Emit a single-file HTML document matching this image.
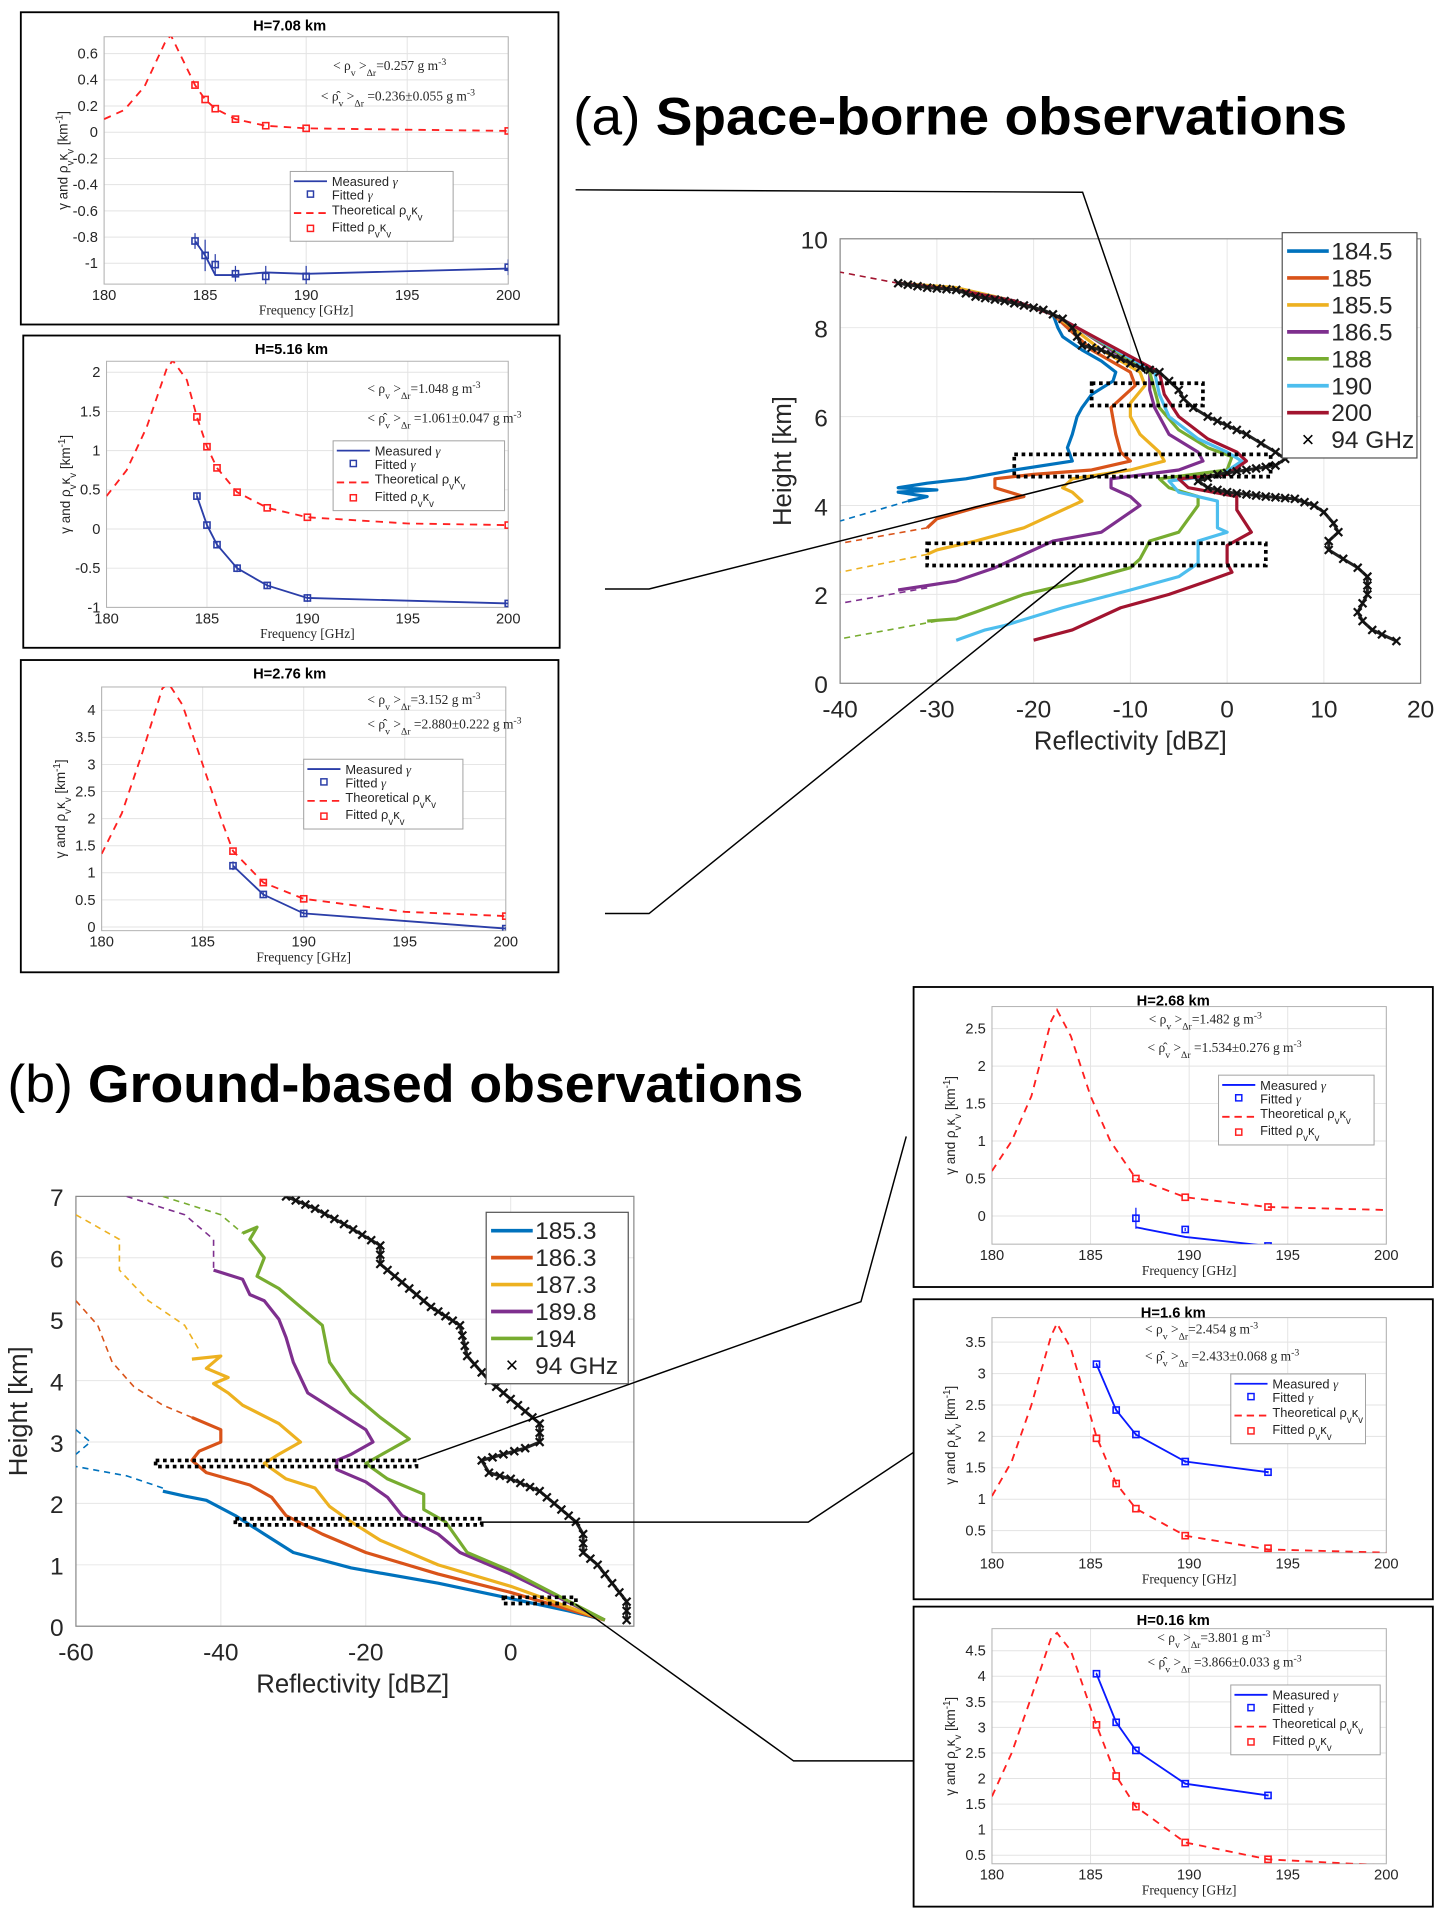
<!DOCTYPE html>
<html><head><meta charset="utf-8">
<style>
html,body{margin:0;padding:0;background:#fff;}
svg{display:block;font-family:"Liberation Sans","DejaVu Sans",sans-serif;}
.serif{font-family:"Liberation Serif","DejaVu Serif",serif;}
</style></head>
<body>
<svg id="fig" width="1450" height="1925" viewBox="0 0 1184 1572" preserveAspectRatio="none" xmlns="http://www.w3.org/2000/svg">
<text x="468" y="110" font-size="43" fill="#000" textLength="632" lengthAdjust="spacingAndGlyphs"><tspan>(a) </tspan><tspan font-weight="bold">Space-borne observations</tspan></text>
<text x="6" y="900" font-size="43" fill="#000" textLength="650" lengthAdjust="spacingAndGlyphs"><tspan>(b) </tspan><tspan font-weight="bold">Ground-based observations</tspan></text>
<g id="connectors" stroke="#000" stroke-width="1.2" fill="none">
<polyline points="470,155 884,157 935,305"/>
<polyline points="494,481 530,481 920,383"/>
<polyline points="494,746 530,746 882,462"/>
<polyline points="341,1192 703,1063 740,928"/>
<polyline points="392,1243 660,1243 746,1186"/>
<polyline points="470,1310 648,1438 746,1438"/>
</g>
</svg>
<script>
// ===== Small panel data =====
const a1TheoryF=[180,181,182,183,183.3,184,184.5,185,185.5,186.5,188,190,195,200];
const a1TheoryV=[0.1,0.17,0.35,0.68,0.74,0.52,0.36,0.25,0.18,0.1,0.05,0.03,0.02,0.01];
const a1FitF=[184.5,185,185.5,186.5,188,190,200];
const a1FitRho=[0.36,0.25,0.18,0.1,0.05,0.03,0.01];
const a1MeasG=[-0.83,-0.94,-1.09,-1.09,-1.07,-1.08,-1.04];
const a1FitG=[-0.83,-0.94,-1.01,-1.08,-1.1,-1.1,-1.03];
const a1Err=[0.06,0.12,0.08,0.06,0.08,0.08,0.06];

const a2TheoryF=[180,181,182,183,183.3,184,184.5,185,185.5,186.5,188,190,195,200];
const a2TheoryV=[0.42,0.75,1.3,2.05,2.15,1.9,1.43,1.05,0.78,0.47,0.27,0.15,0.07,0.05];
const a2FitF=[184.5,185,185.5,186.5,188,190,200];
const a2FitRho=[1.43,1.05,0.78,0.47,0.27,0.15,0.05];
const a2MeasG=[0.42,0.05,-0.2,-0.5,-0.72,-0.88,-0.95];
const a2FitG=[0.42,0.05,-0.2,-0.5,-0.72,-0.88,-0.95];
const a2Err=[0.04,0.04,0.04,0.05,0.04,0.05,0.03];

const a3TheoryF=[180,181,182,183,183.3,184,185,186,186.5,188,190,195,200];
const a3TheoryV=[1.35,2.1,3.2,4.4,4.5,4.1,3.0,1.9,1.4,0.82,0.52,0.28,0.2];
const a3FitF=[186.5,188,190,200];
const a3FitRho=[1.4,0.82,0.52,0.2];
const a3MeasG=[1.13,0.6,0.25,-0.03];
const a3FitG=[1.13,0.6,0.25,-0.03];
const a3Err=[0.08,0.04,0.04,0.03];

const b1TheoryF=[180,181,182,183,183.3,184,185,186,187.3,189.8,194,200];
const b1TheoryV=[0.6,1.0,1.6,2.6,2.75,2.4,1.6,1.0,0.5,0.25,0.12,0.08];
const b1FitF=[187.3,189.8,194];
const b1FitRho=[0.5,0.25,0.12];
const b1MeasG=[-0.15,-0.28,-0.4];
const b1FitG=[-0.03,-0.18,-0.4];
const b1Err=[0.14,0.02,0.02];

const b2TheoryF=[180,181,182,183,183.3,184,185.3,186.3,187.3,189.8,194,200];
const b2TheoryV=[1.05,1.6,2.5,3.6,3.8,3.4,2.0,1.25,0.85,0.42,0.2,0.15];
const b2FitF=[185.3,186.3,187.3,189.8,194];
const b2FitRho=[1.97,1.25,0.85,0.42,0.22];
const b2MeasG=[3.15,2.42,2.03,1.6,1.43];
const b2FitG=[3.15,2.42,2.03,1.6,1.43];
const b2Err=[0.02,0.02,0.02,0.02,0.02];

const b3TheoryF=[180,181,182,183,183.3,184,185.3,186.3,187.3,189.8,194,200];
const b3TheoryV=[1.65,2.5,3.6,4.75,4.85,4.5,3.05,2.05,1.45,0.75,0.42,0.3];
const b3FitF=[185.3,186.3,187.3,189.8,194];
const b3FitRho=[3.05,2.05,1.45,0.75,0.42];
const b3MeasG=[4.05,3.1,2.55,1.9,1.67];
const b3FitG=[4.05,3.1,2.55,1.9,1.67];
const b3Err=[0.02,0.02,0.02,0.02,0.02];

const xTickLabels=["180","185","190","195","200"];
const a1YTicks=[0.6,0.4,0.2,0,-0.2,-0.4,-0.6,-0.8,-1];
const a2YTicks=[2,1.5,1,0.5,0,-0.5,-1];
const a3YTicks=[4,3.5,3,2.5,2,1.5,1,0.5,0];
const b1YTicks=[2.5,2,1.5,1,0.5,0];
const b2YTicks=[3.5,3,2.5,2,1.5,1,0.5];
const b3YTicks=[4.5,4,3.5,3,2.5,2,1.5,1,0.5];

// ===== Space-borne profile data (dBZ, km) =====
const aSeriesNames=["184.5","185","185.5","186.5","188","190","200"];
const aSeriesColors=["#0072BD","#D95319","#EDB120","#7E2F8E","#77AC30","#4DBEEE","#A2142F"];
const aS1x=[-34,-28,-22,-18,-17.5,-17,-15,-13,-11.5,-11.8,-14,-15,-15.5,-16,-16.5,-16,-22,-27,-31,-34,-30,-34,-31,-33];
const aS1h=[9.0,8.85,8.6,8.3,8.0,7.8,7.5,7.25,7.0,6.8,6.5,6.2,6.0,5.6,5.3,5.0,4.8,4.6,4.5,4.4,4.35,4.3,4.2,4.1];
const aS2x=[-34,-28,-22,-18,-16.5,-14,-10,-9.5,-11,-12,-11.5,-11,-10,-14,-20,-24,-24,-21,-26,-30,-31];
const aS2h=[9.0,8.85,8.6,8.3,8.0,7.5,7.0,6.7,6.4,6.2,5.6,5.2,5.0,4.8,4.7,4.6,4.4,4.2,3.95,3.7,3.5];
const aS3x=[-34,-28,-22,-18,-16,-13,-9,-8.5,-10,-10,-9,-7,-6.5,-10,-16,-17,-16,-15,-18,-21,-26,-30,-31];
const aS3h=[9.0,8.9,8.6,8.3,8.0,7.5,7.0,6.7,6.3,6.0,5.6,5.2,5.0,4.8,4.6,4.4,4.3,4.1,3.8,3.5,3.2,3.0,2.9];
const aS4x=[-34,-28,-22,-18,-15.5,-12,-8,-8,-7.5,-6,-3,-2.5,-5,-12,-12,-10,-9,-11,-13,-18,-20,-24,-28,-34];
const aS4h=[9.0,8.85,8.6,8.3,8.0,7.5,7.0,6.6,6.2,5.6,5.2,5.0,4.8,4.6,4.4,4.2,4.0,3.7,3.4,3.2,3.0,2.6,2.3,2.1];
const aS5x=[-34,-28,-22,-18,-15.5,-8,-7.5,-7,-5,-2,0.5,0,-7,-6,-3,-3,-4,-5,-8,-9,-10,-15,-21,-26,-28,-31];
const aS5h=[9.0,8.85,8.6,8.3,8.0,7.0,6.6,6.2,5.7,5.3,5.1,4.8,4.6,4.4,4.2,4.0,3.7,3.4,3.2,2.8,2.6,2.3,2.0,1.6,1.45,1.4];
const aS6x=[-34,-28,-22,-18,-15.5,-7.5,-7,-6,-3,0,1.5,-0.5,-6,-5,-1,-1,-1,0,-3,-3,-5,-10,-17,-23,-25,-28];
const aS6h=[9.0,8.85,8.6,8.3,8.0,7.0,6.5,6.0,5.5,5.2,5.0,4.7,4.55,4.3,4.1,3.8,3.5,3.4,3.2,2.7,2.4,2.1,1.7,1.3,1.2,0.97];
const aS7x=[-34,-28,-22,-18,-15.5,-7,-6.5,-5,-2,1,2,0,-5,-4,1,1,2.5,0,0,0.5,-2,-6,-11,-16,-20];
const aS7h=[9.0,8.85,8.6,8.3,8.0,7.0,6.5,6.0,5.5,5.2,5.0,4.7,4.6,4.4,4.2,3.9,3.4,3.1,2.7,2.5,2.3,2.0,1.7,1.2,0.97];
const aD1x=[-33,-40], aD1h=[4.1,3.65];
const aD2x=[-31,-40], aD2h=[3.5,3.15];
const aD3x=[-31,-40], aD3h=[2.9,2.5];
const aD4x=[-31,-40], aD4h=[2.15,1.8];
const aD5x=[-30,-40], aD5h=[1.4,1.0];
const aD7x=[-34,-40], aD7h=[9.0,9.25];
const a94x=[-34,-31,-28,-26,-23,-21,-19,-17,-16,-15.5,-15,-13,-11,-9,-7,-6,-5,-4.5,-3.5,-2,0,2,3.5,5,6,5,2,-1,-3,-2,0,2,4,7,9,10,11,11.5,10.5,10.5,12,13.5,14.5,14.5,14,13.5,14,15,16,17.5];
const a94h=[9.0,8.9,8.85,8.7,8.6,8.5,8.4,8.2,8.0,7.8,7.6,7.5,7.3,7.1,7.0,6.8,6.6,6.4,6.2,6.0,5.8,5.6,5.4,5.2,5.05,4.9,4.8,4.7,4.55,4.4,4.3,4.25,4.2,4.15,4.0,3.85,3.6,3.4,3.2,3.0,2.8,2.6,2.4,2.0,1.8,1.6,1.4,1.2,1.1,0.95];
const aBoxX0=[-14,-22,-31], aBoxX1=[-2.5,4.5,4], aBoxH0=[6.25,4.65,2.65], aBoxH1=[6.75,5.15,3.15];
const aXTicks=[-40,-30,-20,-10,0,10,20];
const aYTicks=[0,2,4,6,8,10];

// ===== Ground-based profile data =====
const bSeriesNames=["185.3","186.3","187.3","189.8","194"];
const bSeriesColors=["#0072BD","#D95319","#EDB120","#7E2F8E","#77AC30"];
const bS1x=[-48,-45,-42,-38,-34,-30,-22,-10,0,8,13];
const bS1h=[2.2,2.12,2.05,1.8,1.5,1.2,0.95,0.7,0.45,0.25,0.1];
const bS2x=[-44,-40,-40,-43,-44,-42,-36,-33,-31,-26,-20,-10,0,13];
const bS2h=[3.4,3.2,3.0,2.85,2.7,2.5,2.3,2.1,1.8,1.5,1.2,0.85,0.55,0.1];
const bS3x=[-44,-40,-42,-39,-41,-39,-37,-32,-29,-32,-34,-31,-27,-25,-22,-18,-10,0,13];
const bS3h=[4.35,4.4,4.2,4.05,3.95,3.8,3.6,3.3,3.0,2.8,2.65,2.4,2.25,1.95,1.7,1.4,1.0,0.65,0.1];
const bS4x=[-41,-37,-36,-34,-32,-31,-30,-28,-24,-20,-19,-22,-24,-24,-20,-17,-15,-10,-7,0,13];
const bS4h=[5.8,5.65,5.4,5.3,5.0,4.7,4.3,3.8,3.5,3.2,3.0,2.8,2.7,2.55,2.35,2.1,1.8,1.5,1.2,0.85,0.1];
const bS5x=[-37,-35,-36,-34,-35,-32,-29,-26,-25,-22,-18,-14,-17,-20,-17,-12,-12,-9,-6,0,13];
const bS5h=[6.4,6.5,6.3,6.0,5.7,5.5,5.2,4.9,4.3,3.8,3.4,3.05,2.85,2.65,2.4,2.15,1.9,1.7,1.2,0.9,0.1];
const bD1x=[-48,-53,-60], bD1h=[2.25,2.45,2.6];
const bD1bx=[-60,-58,-60], bD1bh=[3.2,3.0,2.8];
const bD2x=[-60,-57,-55,-52,-48,-44], bD2h=[5.3,4.9,4.3,3.9,3.6,3.4];
const bD3x=[-60,-54,-54,-50,-45,-43], bD3h=[6.7,6.3,5.8,5.3,4.9,4.5];
const bD4x=[-53,-45,-41,-41], bD4h=[7.0,6.7,6.3,5.8];
const bD5x=[-48,-40,-37], bD5h=[7.0,6.7,6.4];
const b94x=[-31,-27,-23,-18,-18,-15,-11,-7,-6,-3,1,4,4,2,-1,-4,-3,0,4,6,9,10,10,12,14,16,16];
const b94h=[7.0,6.8,6.55,6.2,5.9,5.6,5.2,4.9,4.4,4.0,3.6,3.3,3.0,2.9,2.8,2.7,2.5,2.4,2.2,2.0,1.7,1.5,1.2,1.0,0.7,0.4,0.1];
const bBoxX0=[-49,-38,-1], bBoxX1=[-13,-4,9], bBoxH0=[2.6,1.65,0.37], bBoxH1=[2.7,1.75,0.47];
const bXTicks=[-60,-40,-20,0];
const bYTicks=[0,1,2,3,4,5,6,7];

// ===== rendering =====
const NS="http://www.w3.org/2000/svg";
const svg=document.getElementById('fig');
function mk(tag,attrs,parent,name){
  const el=document.createElementNS(NS,tag);
  for(const k in attrs) el.setAttribute(k,attrs[k]);
  
  
  (parent||svg).appendChild(el);
  return el;
}
function txt(x,y,s,size,parent,name,extra){
  const a=Object.assign({x:x,y:y,'font-size':size,fill:'#262626'},extra||{});
  const t=mk('text',a,parent,name);
  t.textContent=s;
  return t;
}
function ptsStr(xs,ys,fx,fy){return xs.map((v,i)=>fx(v).toFixed(1)+','+fy(ys[i]).toFixed(1)).join(' ');}

function smallPanel(c){
  const g=mk('g',{},svg,c.name);
  mk('rect',{x:c.bx,y:c.by,width:c.bw,height:c.bh,fill:'#fff',stroke:'#000','stroke-width':1.5},g,'panel-frame');
  const fx=f=>c.x180+(f-180)*(c.x200-c.x180)/20;
  const fy=v=>c.y0-v*c.ppu;
  const L=c.x180,R=c.x200,T=c.top,B=c.bottom;
  const clipId='clip-'+c.name;
  const cp=mk('clipPath',{id:clipId},g,'clip');
  mk('rect',{x:L,y:T,width:R-L,height:B-T},cp,'clip-rect');
  for(let i=0;i<5;i++){const x=fx(180+5*i);
    mk('line',{x1:x,y1:T,x2:x,y2:B,stroke:'#e3e3e3','stroke-width':0.8},g,'x-grid-line');
    txt(x,B+13,xTickLabels[i],12,g,'x-tick-label',{'text-anchor':'middle'});}
  c.yt.forEach(v=>{const y=fy(v);
    mk('line',{x1:L,y1:y,x2:R,y2:y,stroke:'#e3e3e3','stroke-width':0.8},g,'y-grid-line');
    txt(L-5,y+4,String(v),12,g,'y-tick-label',{'text-anchor':'end'});});
  mk('rect',{x:L,y:T,width:R-L,height:B-T,fill:'none',stroke:'#b0b0b0','stroke-width':0.8},g,'plot-area');
  txt((c.bx+c.bx+c.bw)/2,c.by+15,c.title,12,g,'panel-title',{'text-anchor':'middle','font-weight':'bold',fill:'#000'});
  txt((L+R)/2,B+25,'Frequency [GHz]',11,g,'x-axis-title',{'text-anchor':'middle',class:'serif'});
  const yl=txt(0,0,'',11,g,'y-axis-title',{'text-anchor':'middle',transform:'translate('+(L-30)+','+((T+B)/2)+') rotate(-90)'});
  yl.innerHTML='γ and ρ<tspan baseline-shift="sub" font-size="8">v</tspan>κ<tspan baseline-shift="sub" font-size="8">v</tspan> [km<tspan baseline-shift="super" font-size="8">-1</tspan>]';
  const t1=txt(c.t1x,c.t1y,'',11,g,'mean-density-text',{class:'serif'});
  t1.innerHTML='&lt; ρ<tspan baseline-shift="sub" font-size="8">v</tspan> &gt;<tspan baseline-shift="sub" font-size="8">Δr</tspan>='+c.t1+' g m<tspan baseline-shift="super" font-size="8">-3</tspan>';
  const t2=txt(c.t2x,c.t2y,'',11,g,'fitted-density-text',{class:'serif'});
  t2.innerHTML='&lt; ρ̂<tspan baseline-shift="sub" font-size="8">v</tspan> &gt;<tspan baseline-shift="sub" font-size="8">Δr</tspan> ='+c.t2+' g m<tspan baseline-shift="super" font-size="8">-3</tspan>';
  const cg=mk('g',{'clip-path':'url(#'+clipId+')'},g,'series-group');
  mk('polyline',{points:ptsStr(c.tf,c.tv,fx,fy),fill:'none',stroke:'#ff2020','stroke-width':1.5,'stroke-dasharray':'6,5'},cg,'theoretical-curve');
  c.ff.forEach((f,i)=>{mk('rect',{x:fx(f)-2.5,y:fy(c.fr[i])-2.5,width:5,height:5,fill:'none',stroke:'#ff2020','stroke-width':1.3},cg,'fitted-rho-marker');});
  mk('polyline',{points:ptsStr(c.ff,c.mg,fx,fy),fill:'none',stroke:c.gc,'stroke-width':1.5},cg,'measured-gamma-line');
  c.ff.forEach((f,i)=>{const x=fx(f),y=fy(c.fg[i]),e=c.er[i]*c.ppu;
    mk('line',{x1:x,y1:y-e,x2:x,y2:y+e,stroke:c.gc,'stroke-width':1},cg,'error-bar');
    mk('rect',{x:x-2.5,y:y-2.5,width:5,height:5,fill:'none',stroke:c.gc,'stroke-width':1.3},cg,'fitted-gamma-marker');});
  const lg=mk('g',{},g,'legend');
  mk('rect',{x:c.lx,y:c.ly,width:c.lw,height:57,fill:'#fff',stroke:'#a0a0a0','stroke-width':0.8},lg,'legend-box');
  const lx=c.lx, ly=c.ly;
  mk('line',{x1:lx+3,y1:ly+8,x2:lx+30,y2:ly+8,stroke:c.gc,'stroke-width':1.5},lg,'legend-measured-line');
  mk('rect',{x:lx+14,y:ly+16,width:5,height:5,fill:'none',stroke:c.gc,'stroke-width':1.2},lg,'legend-fitted-gamma-marker');
  mk('line',{x1:lx+3,y1:ly+34,x2:lx+30,y2:ly+34,stroke:'#ff2020','stroke-width':1.5,'stroke-dasharray':'6,4'},lg,'legend-theoretical-line');
  mk('rect',{x:lx+14,y:ly+44,width:5,height:5,fill:'none',stroke:'#ff2020','stroke-width':1.2},lg,'legend-fitted-rho-marker');
  const e1=txt(lx+34,ly+12,'',10.5,lg,'legend-measured-label'); e1.innerHTML='Measured <tspan class="serif" font-style="italic">γ</tspan>';
  const e2=txt(lx+34,ly+23,'',10.5,lg,'legend-fitted-gamma-label'); e2.innerHTML='Fitted <tspan class="serif" font-style="italic">γ</tspan>';
  const e3=txt(lx+34,ly+35,'',10.5,lg,'legend-theoretical-label'); e3.innerHTML='Theoretical ρ<tspan baseline-shift="sub" font-size="8">v</tspan>κ<tspan baseline-shift="sub" font-size="8">v</tspan>';
  const e4=txt(lx+34,ly+49,'',10.5,lg,'legend-fitted-rho-label'); e4.innerHTML='Fitted ρ<tspan baseline-shift="sub" font-size="8">v</tspan>κ<tspan baseline-shift="sub" font-size="8">v</tspan>';
}

smallPanel({name:'panel-h708',bx:17,by:10,bw:439,bh:255,title:'H=7.08 km',x180:85,x200:415,y0:108,ppu:107,top:30,bottom:232,yt:a1YTicks,
  tf:a1TheoryF,tv:a1TheoryV,ff:a1FitF,fr:a1FitRho,mg:a1MeasG,fg:a1FitG,er:a1Err,gc:'#2b3ea8',
  t1:'0.257',t2:'0.236±0.055',t1x:272,t1y:57,t2x:262,t2y:82,lx:237,ly:140,lw:133});
smallPanel({name:'panel-h516',bx:19,by:274,bw:438,bh:255,title:'H=5.16 km',x180:87,x200:415,y0:432,ppu:64,top:295,bottom:496,yt:a2YTicks,
  tf:a2TheoryF,tv:a2TheoryV,ff:a2FitF,fr:a2FitRho,mg:a2MeasG,fg:a2FitG,er:a2Err,gc:'#2b3ea8',
  t1:'1.048',t2:'1.061±0.047',t1x:300,t1y:321,t2x:300,t2y:345,lx:272,ly:360,lw:140});
smallPanel({name:'panel-h276',bx:17,by:539,bw:439,bh:255,title:'H=2.76 km',x180:83,x200:413,y0:757,ppu:44.25,top:561,bottom:760,yt:a3YTicks,
  tf:a3TheoryF,tv:a3TheoryV,ff:a3FitF,fr:a3FitRho,mg:a3MeasG,fg:a3FitG,er:a3Err,gc:'#2b3ea8',
  t1:'3.152',t2:'2.880±0.222',t1x:300,t1y:575,t2x:300,t2y:595,lx:248,ly:620,lw:130});
smallPanel({name:'panel-h268',bx:746,by:806,bw:424,bh:245,title:'H=2.68 km',x180:810,x200:1132,y0:993,ppu:61.2,top:822,bottom:1016,yt:b1YTicks,
  tf:b1TheoryF,tv:b1TheoryV,ff:b1FitF,fr:b1FitRho,mg:b1MeasG,fg:b1FitG,er:b1Err,gc:'#0a1aff',
  t1:'1.482',t2:'1.534±0.276',t1x:938,t1y:836,t2x:937,t2y:859,lx:995,ly:878,lw:127});
smallPanel({name:'panel-h160',bx:746,by:1061,bw:424,bh:245,title:'H=1.6 km',x180:810,x200:1132,y0:1275.6,ppu:51.3,top:1076,bottom:1268,yt:b2YTicks,
  tf:b2TheoryF,tv:b2TheoryV,ff:b2FitF,fr:b2FitRho,mg:b2MeasG,fg:b2FitG,er:b2Err,gc:'#0a1aff',
  t1:'2.454',t2:'2.433±0.068',t1x:935,t1y:1089,t2x:935,t2y:1111,lx:1005,ly:1122,lw:110});
smallPanel({name:'panel-h016',bx:746,by:1312,bw:424,bh:245,title:'H=0.16 km',x180:810,x200:1132,y0:1535.9,ppu:41.75,top:1330,bottom:1522,yt:b3YTicks,
  tf:b3TheoryF,tv:b3TheoryV,ff:b3FitF,fr:b3FitRho,mg:b3MeasG,fg:b3FitG,er:b3Err,gc:'#0a1aff',
  t1:'3.801',t2:'3.866±0.033',t1x:945,t1y:1341,t2x:937,t2y:1361,lx:1005,ly:1376,lw:122});

function xMark(parent,x,y){
  mk('path',{d:'M'+(x-3.2)+','+(y-3.2)+'L'+(x+3.2)+','+(y+3.2)+'M'+(x-3.2)+','+(y+3.2)+'L'+(x+3.2)+','+(y-3.2),stroke:'#111','stroke-width':1.8},parent,'marker-94ghz');
}
function profile(c){
  const g=mk('g',{},svg,c.name);
  const fx=v=>c.xa+(v-c.xmin)*c.ppx;
  const fy=h=>c.y0-h*c.ppk;
  const L=fx(c.xmin),R=fx(c.xmax),T=fy(c.hmax),B=fy(0);
  const clipId='clip-'+c.name;
  const cp=mk('clipPath',{id:clipId},g,'clip');
  mk('rect',{x:L,y:T,width:R-L,height:B-T},cp,'clip-rect');
  mk('rect',{x:L,y:T,width:R-L,height:B-T,fill:'#fff',stroke:'none'},g,'plot-background');
  c.xt.forEach(v=>{const x=fx(v);
    mk('line',{x1:x,y1:T,x2:x,y2:B,stroke:'#e6e6e6','stroke-width':0.8},g,'x-grid-line');
    txt(x,B+28,String(v),20,g,'x-tick-label',{'text-anchor':'middle'});});
  c.yt.forEach(v=>{const y=fy(v);
    mk('line',{x1:L,y1:y,x2:R,y2:y,stroke:'#e6e6e6','stroke-width':0.8},g,'y-grid-line');
    txt(L-10,y+8,String(v),20,g,'y-tick-label',{'text-anchor':'end'});});
  mk('rect',{x:L,y:T,width:R-L,height:B-T,fill:'none',stroke:'#8a8a8a','stroke-width':1},g,'plot-area');
  txt(c.xtitleX,B+54,'Reflectivity [dBZ]',21,g,'x-axis-title',{'text-anchor':'middle'});
  txt(0,0,'Height [km]',21,g,'y-axis-title',{'text-anchor':'middle',transform:'translate('+(L-40)+','+((T+B)/2)+') rotate(-90)'});
  const cg=mk('g',{'clip-path':'url(#'+clipId+')'},g,'series-group');
  c.dashed.forEach(d=>{mk('polyline',{points:ptsStr(d[0],d[1],fx,fy),fill:'none',stroke:c.colors[d[2]],'stroke-width':1.3,'stroke-dasharray':'5,4'},cg,'dashed-extrapolation');});
  c.series.forEach((s,i)=>{mk('polyline',{points:ptsStr(s[0],s[1],fx,fy),fill:'none',stroke:c.colors[i],'stroke-width':2.6,'stroke-linejoin':'round'},cg,'profile-'+c.names[i]);});
  mk('polyline',{points:ptsStr(c.x94,c.h94,fx,fy),fill:'none',stroke:'#222','stroke-width':2.5},cg,'profile-94ghz-line');
  for(let i=0;i<c.x94.length;i++){
    const x=fx(c.x94[i]),y=fy(c.h94[i]);
    xMark(cg,x,y);
    if(i+1<c.x94.length){
      const x2=fx(c.x94[i+1]),y2=fy(c.h94[i+1]);
      const d=Math.hypot(x2-x,y2-y), n=Math.floor(d/7);
      for(let k=1;k<n;k++){xMark(cg,x+(x2-x)*k/n,y+(y2-y)*k/n);}
    }
  }
  c.bx0.forEach((v,i)=>{const x0=fx(v),x1=fx(c.bx1[i]),y0=fy(c.bh1[i]),y1=fy(c.bh0[i]);
    mk('rect',{x:x0,y:y0,width:x1-x0,height:y1-y0,fill:'none',stroke:'#000','stroke-width':3,'stroke-dasharray':'3,3'},g,'height-bin-box');});
  const lg=mk('g',{},g,'legend');
  const n=c.names.length+1, lh=22;
  mk('rect',{x:c.lx,y:c.ly,width:c.lw,height:n*lh+8,fill:'#fff',stroke:'#555','stroke-width':1},lg,'legend-box');
  c.names.forEach((nm,i)=>{const y=c.ly+15+i*lh;
    mk('line',{x1:c.lx+4,y1:y,x2:c.lx+38,y2:y,stroke:c.colors[i],'stroke-width':3},lg,'legend-swatch');
    txt(c.lx+40,y+7,nm,20,lg,'legend-entry');});
  const y=c.ly+15+c.names.length*lh;
  txt(c.lx+21,y+6,'×',18,lg,'legend-94ghz-marker',{'text-anchor':'middle',fill:'#000'});
  txt(c.lx+40,y+7,'94 GHz',20,lg,'legend-entry');
}

profile({name:'chart-space-borne',xa:686,xmin:-40,xmax:20,ppx:(1160-686)/60,y0:558,ppk:(558-195)/10,hmax:10,xt:aXTicks,yt:aYTicks,xtitleX:923,
  names:aSeriesNames,colors:aSeriesColors,
  series:[[aS1x,aS1h],[aS2x,aS2h],[aS3x,aS3h],[aS4x,aS4h],[aS5x,aS5h],[aS6x,aS6h],[aS7x,aS7h]],
  dashed:[[aD1x,aD1h,0],[aD2x,aD2h,1],[aD3x,aD3h,2],[aD4x,aD4h,3],[aD5x,aD5h,4],[aD7x,aD7h,6]],
  x94:a94x,h94:a94h,bx0:aBoxX0,bx1:aBoxX1,bh0:aBoxH0,bh1:aBoxH1,lx:1047,ly:190,lw:110});
profile({name:'chart-ground-based',xa:62,xmin:-60,xmax:17,ppx:(417-62)/60,y0:1328,ppk:(1328-977)/7,hmax:7,xt:bXTicks,yt:bYTicks,xtitleX:288,
  names:bSeriesNames,colors:bSeriesColors,
  series:[[bS1x,bS1h],[bS2x,bS2h],[bS3x,bS3h],[bS4x,bS4h],[bS5x,bS5h]],
  dashed:[[bD1x,bD1h,0],[bD1bx,bD1bh,0],[bD2x,bD2h,1],[bD3x,bD3h,2],[bD4x,bD4h,3],[bD5x,bD5h,4]],
  x94:b94x,h94:b94h,bx0:bBoxX0,bx1:bBoxX1,bh0:bBoxH0,bh1:bBoxH1,lx:397,ly:990,lw:116});
svg.appendChild(document.getElementById('connectors'));
</script>
</body></html>
